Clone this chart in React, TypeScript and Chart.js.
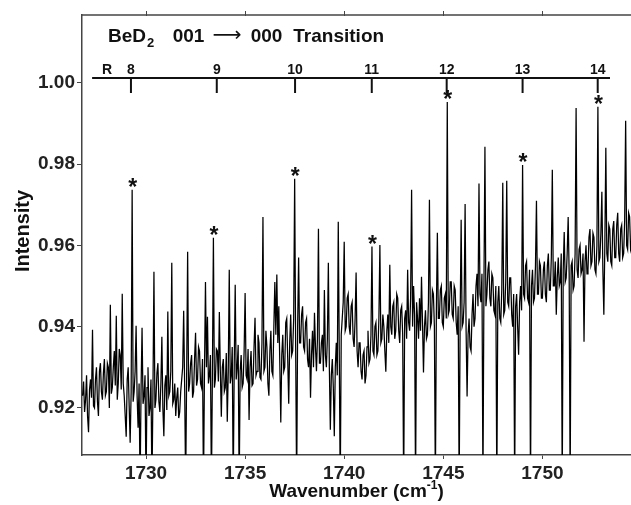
import { useEffect, useRef } from 'react';
import { Chart, registerables } from 'chart.js';

Chart.register(...registerables);

const FONT = '"Liberation Sans", Arial, Helvetica, sans-serif';

// Spectrum sampling (cm^-1)
const wavenumberStart = 1726.8;
const wavenumberStep = 0.05;

// Intensity, one value per sample
const intensity = [
  0.9230, 0.9265, 0.9190, 0.9220, 0.9280, 0.9180, 0.9140, 0.9245, 0.9270, 0.9225, 0.9392, 0.9205, 0.9200, 0.9270, 0.9300, 0.9215, 0.9180, 0.9290, 0.9310, 0.9240,
  0.9220, 0.9285, 0.9320, 0.9230, 0.9240, 0.9310, 0.9300, 0.9200, 0.9454, 0.9235, 0.9250, 0.9300, 0.9340, 0.9255, 0.9427, 0.9220, 0.9260, 0.9345, 0.9330, 0.9245,
  0.9481, 0.9260, 0.9230, 0.9180, 0.9129, 0.9270, 0.9300, 0.9205, 0.9114, 0.9240, 0.9737, 0.9215, 0.9240, 0.9290, 0.9402, 0.9230, 0.9151, 0.9260, 0.9000, 0.9245,
  0.9397, 0.9210, 0.9230, 0.9280, 0.9000, 0.9250, 0.9300, 0.9180, 0.9200, 0.9270, 0.9000, 0.9240, 0.9535, 0.9200, 0.9220, 0.9285, 0.9310, 0.9215, 0.9190, 0.9260,
  0.9375, 0.9200, 0.9130, 0.9255, 0.9280, 0.9195, 0.9437, 0.9230, 0.9240, 0.9290, 0.9557, 0.9210, 0.9220, 0.9260, 0.9180, 0.9225, 0.9250, 0.9175, 0.9190, 0.9240,
  0.9270, 0.9300, 0.9439, 0.9250, 0.9000, 0.9280, 0.9584, 0.9240, 0.9260, 0.9310, 0.9330, 0.9225, 0.9240, 0.9320, 0.9385, 0.9255, 0.9270, 0.9350, 0.9340, 0.9260,
  0.9250, 0.9320, 0.9000, 0.9290, 0.9510, 0.9300, 0.9424, 0.9260, 0.9280, 0.9330, 0.9000, 0.9285, 0.9619, 0.9250, 0.9270, 0.9345, 0.9340, 0.9265, 0.9436, 0.9290,
  0.9178, 0.9300, 0.9320, 0.9240, 0.9250, 0.9335, 0.9166, 0.9290, 0.9540, 0.9260, 0.9280, 0.9350, 0.9000, 0.9300, 0.9503, 0.9270, 0.9300, 0.9355, 0.9000, 0.9290,
  0.9330, 0.9250, 0.9260, 0.9340, 0.9483, 0.9280, 0.9270, 0.9345, 0.9170, 0.9300, 0.9340, 0.9255, 0.9260, 0.9350, 0.9422, 0.9280, 0.9290, 0.9380, 0.9360, 0.9275,
  0.9270, 0.9360, 0.9670, 0.9290, 0.9300, 0.9390, 0.9350, 0.9260, 0.9230, 0.9340, 0.9390, 0.9290, 0.9280, 0.9400, 0.9510, 0.9380, 0.9528, 0.9360, 0.9450, 0.9310,
  0.9164, 0.9330, 0.9380, 0.9290, 0.9300, 0.9410, 0.9420, 0.9320, 0.9210, 0.9360, 0.9430, 0.9330, 0.9340, 0.9420, 0.9764, 0.9350, 0.9000, 0.9400, 0.9570, 0.9360,
  0.9360, 0.9430, 0.9450, 0.9350, 0.9340, 0.9410, 0.9420, 0.9320, 0.9300, 0.9370, 0.9225, 0.9330, 0.9390, 0.9300, 0.9434, 0.9350, 0.9290, 0.9370, 0.9641, 0.9310,
  0.9310, 0.9360, 0.9380, 0.9290, 0.9490, 0.9330, 0.9300, 0.9370, 0.9557, 0.9300, 0.9146, 0.9280, 0.9320, 0.9250, 0.9130, 0.9300, 0.9360, 0.9280, 0.9658, 0.9340,
  0.9000, 0.9380, 0.9420, 0.9460, 0.9609, 0.9390, 0.9400, 0.9470, 0.9480, 0.9400, 0.9380, 0.9450, 0.9460, 0.9370, 0.9350, 0.9420, 0.9533, 0.9340, 0.9300, 0.9360,
  0.9360, 0.9290, 0.9270, 0.9330, 0.9340, 0.9260, 0.9280, 0.9350, 0.9390, 0.9310, 0.9320, 0.9380, 0.9597, 0.9340, 0.9330, 0.9400, 0.9410, 0.9330, 0.9340, 0.9420,
  0.9601, 0.9360, 0.9370, 0.9430, 0.9400, 0.9340, 0.9289, 0.9390, 0.9430, 0.9360, 0.9552, 0.9400, 0.9380, 0.9450, 0.9460, 0.9370, 0.9390, 0.9480, 0.9470, 0.9390,
  0.9360, 0.9440, 0.9450, 0.9380, 0.9000, 0.9420, 0.9440, 0.9370, 0.9540, 0.9410, 0.9390, 0.9470, 0.9737, 0.9400, 0.9500, 0.9430, 0.9000, 0.9460, 0.9420, 0.9370,
  0.9470, 0.9390, 0.9523, 0.9410, 0.9287, 0.9400, 0.9440, 0.9370, 0.9380, 0.9460, 0.9712, 0.9400, 0.9410, 0.9490, 0.9480, 0.9400, 0.9000, 0.9440, 0.9631, 0.9420,
  0.9420, 0.9490, 0.9500, 0.9410, 0.9400, 0.9470, 0.9480, 0.9420, 0.9953, 0.9430, 0.9440, 0.9510, 0.9510, 0.9430, 0.9420, 0.9500, 0.9490, 0.9410, 0.9380, 0.9450,
  0.9000, 0.9420, 0.9663, 0.9400, 0.9410, 0.9460, 0.9702, 0.9390, 0.9228, 0.9380, 0.9420, 0.9350, 0.9340, 0.9430, 0.9480, 0.9400, 0.9420, 0.9500, 0.9530, 0.9450,
  0.9752, 0.9480, 0.9460, 0.9530, 0.9000, 0.9500, 0.9843, 0.9450, 0.9480, 0.9540, 0.9560, 0.9470, 0.9450, 0.9530, 0.9520, 0.9440, 0.9430, 0.9500, 0.9000, 0.9460,
  0.9500, 0.9420, 0.9410, 0.9490, 0.9754, 0.9430, 0.9440, 0.9510, 0.9759, 0.9460, 0.9450, 0.9520, 0.9520, 0.9430, 0.9400, 0.9480, 0.9000, 0.9450, 0.9480, 0.9400,
  0.9331, 0.9460, 0.9500, 0.9440, 0.9798, 0.9480, 0.9470, 0.9550, 0.9560, 0.9470, 0.9460, 0.9540, 0.9000, 0.9500, 0.9540, 0.9460, 0.9470, 0.9550, 0.9710, 0.9480,
  0.9480, 0.9560, 0.9550, 0.9470, 0.9470, 0.9540, 0.9560, 0.9480, 0.9460, 0.9550, 0.9580, 0.9490, 0.9490, 0.9570, 0.9786, 0.9500, 0.9500, 0.9560, 0.9429, 0.9520,
  0.9570, 0.9500, 0.9510, 0.9580, 0.9000, 0.9540, 0.9633, 0.9510, 0.9520, 0.9580, 0.9670, 0.9530, 0.9000, 0.9550, 0.9560, 0.9490, 0.9500, 0.9580, 0.9938, 0.9540,
  0.9520, 0.9590, 0.9600, 0.9530, 0.9540, 0.9580, 0.9363, 0.9560, 0.9600, 0.9530, 0.9540, 0.9620, 0.9640, 0.9550, 0.9560, 0.9630, 0.9620, 0.9540, 0.9530, 0.9600,
  0.9941, 0.9560, 0.9570, 0.9630, 0.9732, 0.9540, 0.9429, 0.9600, 0.9840, 0.9580, 0.9560, 0.9650, 0.9640, 0.9560, 0.9550, 0.9640, 0.9660, 0.9570, 0.9570, 0.9650,
  0.9680, 0.9580, 0.9560, 0.9640, 0.9650, 0.9570, 0.9580, 0.9660, 0.9907, 0.9600, 0.9590, 0.9680, 0.9670, 0.9590, 0.9600,
];

// Axes
const xRange = [1726.77, 1754.47];
const yRange = [0.9084, 1.0167];
const xTickValues = [1730, 1735, 1740, 1745, 1750];
const yTickValues = [0.92, 0.94, 0.96, 0.98, 1.0];

// R-branch assignment bar
const branchLabel = 'R';
const branchLabelWavenumber = 1728.03;
const levelLabels = ['8', '9', '10', '11', '12', '13', '14'];
const levelWavenumbers = [1729.24, 1733.57, 1737.52, 1741.39, 1745.17, 1749.0, 1752.79];
const levelBarSpan = [1727.28, 1753.41];
const levelBarIntensity = 1.0012;
const levelTickIntensity = 0.9975;

// Peaks marked with an asterisk
const markedPeakWavenumbers = [1729.3, 1733.4, 1737.5, 1741.4, 1745.2, 1749.0, 1752.8];

const points = intensity.map((v, i) => ({ x: wavenumberStart + i * wavenumberStep, y: v }));

const annotationPlugin = {
  id: 'annotations',
  afterDraw(chart: any) {
    const { ctx, chartArea: a, scales } = chart;
    const xs = scales.x;
    const ys = scales.y;
    ctx.save();

    // top frame with tick marks
    ctx.strokeStyle = '#444';
    ctx.lineWidth = 1.5;
    ctx.beginPath();
    ctx.moveTo(a.left, a.top);
    ctx.lineTo(a.right, a.top);
    ctx.stroke();
    ctx.lineWidth = 1;
    for (const v of xTickValues) {
      const px = Math.round(xs.getPixelForValue(v)) + 0.5;
      ctx.beginPath();
      ctx.moveTo(px, a.top - 4);
      ctx.lineTo(px, a.top + 1);
      ctx.stroke();
    }

    // title
    ctx.fillStyle = '#111';
    ctx.textAlign = 'left';
    ctx.textBaseline = 'alphabetic';
    const base = a.top + 26.7;
    ctx.font = `bold 19px ${FONT}`;
    ctx.fillText('BeD', a.left + 26, base);
    const bw = ctx.measureText('BeD').width;
    ctx.font = `bold 13px ${FONT}`;
    ctx.fillText('2', a.left + 26 + bw + 1, base + 5);
    ctx.font = `bold 19px ${FONT}`;
    ctx.fillText('001', a.left + 90.7, base);
    ctx.fillText('000', a.left + 168.7, base);
    ctx.fillText('Transition', a.left + 211.3, base);
    ctx.font = `19px "DejaVu Sans"`;
    const aw = ctx.measureText('⟶').width || 19;
    const afs = (19 * 29) / aw;
    ctx.font = `${afs}px "DejaVu Sans"`;
    ctx.fillText('⟶', a.left + 130.5, 34.5 + 0.3 * afs);

    // assignment bar
    const barY = ys.getPixelForValue(levelBarIntensity);
    const tickY = ys.getPixelForValue(levelTickIntensity);
    ctx.strokeStyle = '#111';
    ctx.lineWidth = 2;
    ctx.beginPath();
    ctx.moveTo(xs.getPixelForValue(levelBarSpan[0]), barY);
    ctx.lineTo(xs.getPixelForValue(levelBarSpan[1]), barY);
    ctx.stroke();
    ctx.font = `bold 14px ${FONT}`;
    ctx.textAlign = 'center';
    ctx.fillText(branchLabel, xs.getPixelForValue(branchLabelWavenumber), barY - 4);
    levelWavenumbers.forEach((wn, i) => {
      const px = xs.getPixelForValue(wn);
      ctx.beginPath();
      ctx.moveTo(px, barY);
      ctx.lineTo(px, tickY);
      ctx.stroke();
      ctx.fillText(levelLabels[i], px, barY - 4);
    });

    // asterisks over marked peaks
    ctx.font = `bold 23px ${FONT}`;
    for (const wn of markedPeakWavenumbers) {
      const idx = Math.round((wn - wavenumberStart) / wavenumberStep);
      const px = xs.getPixelForValue(wavenumberStart + idx * wavenumberStep);
      const py = ys.getPixelForValue(intensity[idx]);
      ctx.fillText('*', px + 0.5, py + 5.5);
    }

    // x axis title with superscript
    ctx.textAlign = 'left';
    ctx.font = `bold 19px ${FONT}`;
    const t1 = 'Wavenumber (cm';
    const t3 = ')';
    const w1 = ctx.measureText(t1).width;
    const w3 = ctx.measureText(t3).width;
    ctx.font = `bold 12px ${FONT}`;
    const t2 = '-1';
    const w2 = ctx.measureText(t2).width;
    const total = w1 + w2 + w3;
    const cx = (a.left + a.right) / 2;
    const x0 = cx - total / 2;
    const tb = 497;
    ctx.font = `bold 19px ${FONT}`;
    ctx.fillText(t1, x0, tb);
    ctx.font = `bold 12px ${FONT}`;
    ctx.fillText(t2, x0 + w1, tb - 8);
    ctx.font = `bold 19px ${FONT}`;
    ctx.fillText(t3, x0 + w1 + w2, tb);

    // y axis title
    ctx.translate(29, (a.top + a.bottom) / 2 - 4);
    ctx.rotate(-Math.PI / 2);
    ctx.textAlign = 'center';
    ctx.font = `bold 20px ${FONT}`;
    ctx.fillText('Intensity', 0, 0);

    ctx.restore();
  },
};

export default function App() {
  const ref = useRef<HTMLCanvasElement | null>(null);

  useEffect(() => {
    if (!ref.current) return;
    const chart = new Chart(ref.current, {
      type: 'line',
      data: {
        datasets: [
          {
            data: points,
            borderColor: '#000',
            borderWidth: 1.25,
            pointRadius: 0,
            tension: 0,
            fill: false,
          },
        ],
      },
      options: {
        animation: false,
        responsive: false,
        devicePixelRatio: 1,
        layout: { padding: { top: 15, left: 0, right: 0, bottom: 0 } },
        plugins: { legend: { display: false }, tooltip: { enabled: false }, title: { display: false } },
        scales: {
          x: {
            type: 'linear',
            min: xRange[0],
            max: xRange[1],
            afterBuildTicks: (axis: any) => {
              axis.ticks = xTickValues.map((v) => ({ value: v }));
            },
            afterFit: (s: any) => {
              s.height = 50;
            },
            ticks: {
              callback: (v: any) => String(v),
              font: { family: FONT, size: 19, weight: 'bold' },
              color: '#222',
              padding: 3,
              maxRotation: 0,
              autoSkip: false,
            },
            grid: { display: true, drawOnChartArea: false, drawTicks: true, tickLength: 4, color: '#444', lineWidth: 1 },
            border: { display: true, color: '#444', width: 1.5 },
          },
          y: {
            type: 'linear',
            min: yRange[0],
            max: yRange[1],
            afterBuildTicks: (axis: any) => {
              axis.ticks = yTickValues.map((v) => ({ value: v }));
            },
            afterFit: (s: any) => {
              s.width = 82;
            },
            ticks: {
              callback: (v: any) => Number(v).toFixed(2),
              font: { family: FONT, size: 19, weight: 'bold' },
              color: '#222',
              padding: 2,
              autoSkip: false,
            },
            grid: { display: true, drawOnChartArea: false, drawTicks: true, tickLength: 5, color: '#444', lineWidth: 1 },
            border: { display: true, color: '#444', width: 1.5 },
          },
        },
      },
      plugins: [annotationPlugin],
    });
    return () => chart.destroy();
  }, []);

  return (
    <div style={{ position: 'fixed', left: 0, top: 0, width: 631, height: 505, background: '#fff' }}>
      <canvas ref={ref} width={631} height={505} style={{ display: 'block', width: 631, height: 505 }} />
    </div>
  );
}
